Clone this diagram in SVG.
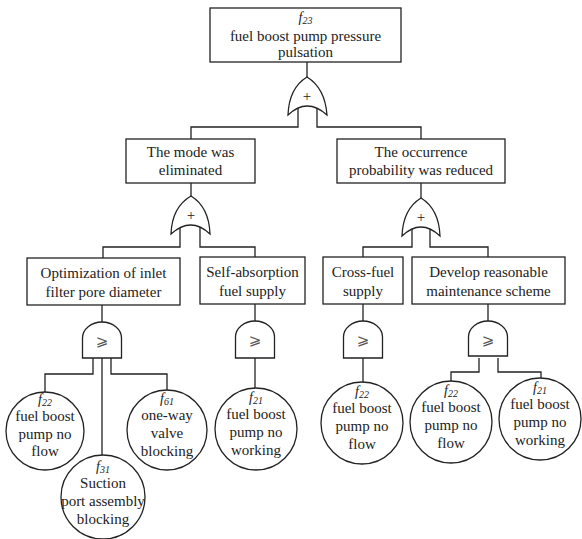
<svg xmlns="http://www.w3.org/2000/svg" width="582" height="539" viewBox="0 0 582 539">
<style>
.box{fill:#fff;stroke:#222;stroke-width:1.3}
.gate{fill:#fff;stroke:#222;stroke-width:1.3}
.ev{fill:#fff;stroke:#222;stroke-width:1.3}
.ln{fill:none;stroke:#222;stroke-width:1.3}
.t{font-family:'Liberation Serif','DejaVu Serif',serif;font-size:15px;fill:#222;text-anchor:middle}
.lbl{font-style:italic;font-size:14px}
.sub{font-size:10px}
.sym{font-family:'DejaVu Sans',sans-serif;font-size:15px;fill:#555;text-anchor:middle}
</style>
<rect width="582" height="539" fill="#fff"/>
<g id="connectors">
<path class="ln" d="M307,62 V78"/>
<path class="ln" d="M298,105 V127 H191 V139"/>
<path class="ln" d="M317,105 V127 H421 V139"/>
<path class="ln" d="M191,183 V196"/>
<path class="ln" d="M180,225 V247 H103 V258"/>
<path class="ln" d="M200,225 V247 H255 V257"/>
<path class="ln" d="M421,183 V198"/>
<path class="ln" d="M412,228 V247 H363 V257"/>
<path class="ln" d="M430,228 V247 H488 V257"/>
<path class="ln" d="M102,305 V322"/>
<path class="ln" d="M93,358 V374 H45 V392"/>
<path class="ln" d="M102,358 V455"/>
<path class="ln" d="M111,358 V374 H167 V390"/>
<path class="ln" d="M255,304 V321"/>
<path class="ln" d="M255,358 V388"/>
<path class="ln" d="M363,304 V321"/>
<path class="ln" d="M363,358 V382"/>
<path class="ln" d="M488,304 V321"/>
<path class="ln" d="M479,358 V372 H451 V381"/>
<path class="ln" d="M498,358 V372 H541 V378"/>
</g>
<g id="top">
<rect class="box" x="210" y="8" width="191" height="54"/>
<text class="t" x="305.5" y="22"><tspan class="lbl">f</tspan><tspan class="lbl sub" dy="2">23</tspan></text>
<text class="t" x="305.5" y="41">fuel boost pump pressure</text>
<text class="t" x="305.5" y="57">pulsation</text>
</g>
<g id="or-top">
<path class="gate" d="M288,115 Q289,88 307,77 Q325,88 327,115 Q307,97 288,115 Z"/>
<text class="t" x="307" y="101">+</text>
</g>
<g id="mode">
<rect class="box" x="126" y="139" width="129" height="44"/>
<text class="t" x="190.5" y="157">The mode was</text>
<text class="t" x="190.5" y="175">eliminated</text>
</g>
<g id="occurrence">
<rect class="box" x="337" y="139" width="168" height="44"/>
<text class="t" x="421" y="157">The occurrence</text>
<text class="t" x="421" y="175">probability was reduced</text>
</g>
<g id="or-left">
<path class="gate" d="M171,234 Q172,207 191,196 Q209,207 210,234 Q191,216 171,234 Z"/>
<text class="t" x="191" y="220">+</text>
</g>
<g id="or-right">
<path class="gate" d="M402,236 Q403,209 421,198 Q439,209 440,236 Q421,218 402,236 Z"/>
<text class="t" x="421" y="222">+</text>
</g>
<g id="optimization">
<rect class="box" x="27" y="258" width="153" height="47"/>
<text class="t" x="103.5" y="278">Optimization of inlet</text>
<text class="t" x="103.5" y="297">filter pore diameter</text>
</g>
<g id="self-absorption">
<rect class="box" x="200" y="257" width="105" height="47"/>
<text class="t" x="252.5" y="277">Self-absorption</text>
<text class="t" x="252.5" y="296">fuel supply</text>
</g>
<g id="cross-fuel">
<rect class="box" x="323" y="257" width="80" height="47"/>
<text class="t" x="363" y="277">Cross-fuel</text>
<text class="t" x="363" y="296">supply</text>
</g>
<g id="develop">
<rect class="box" x="412" y="257" width="153" height="47"/>
<text class="t" x="488.5" y="277">Develop reasonable</text>
<text class="t" x="488.5" y="296">maintenance scheme</text>
</g>
<g id="and-a">
<path class="gate" d="M82.5,358 V338 A19.5,16 0 0 1 121.5,338 V358 Z"/>
<text class="sym" x="102" y="346">⩾</text>
</g>
<g id="and-b">
<path class="gate" d="M235.5,358 V337 A19.5,16 0 0 1 274.5,337 V358 Z"/>
<text class="sym" x="255" y="345">⩾</text>
</g>
<g id="and-c">
<path class="gate" d="M343.5,358 V337 A19.5,16 0 0 1 382.5,337 V358 Z"/>
<text class="sym" x="363" y="345">⩾</text>
</g>
<g id="and-d">
<path class="gate" d="M468.5,356 V337 A19.5,16 0 0 1 507.5,337 V356 Z"/>
<text class="sym" x="488" y="345">⩾</text>
</g>
<g id="ev-f22-a">
<circle class="ev" cx="45" cy="431" r="39"/>
<text class="t" x="45" y="404"><tspan class="lbl">f</tspan><tspan class="lbl sub" dy="2">22</tspan></text>
<text class="t" x="45" y="421">fuel boost</text>
<text class="t" x="45" y="439">pump no</text>
<text class="t" x="45" y="456">flow</text>
</g>
<g id="ev-f31">
<circle class="ev" cx="103" cy="497" r="42"/>
<text class="t" x="103" y="471"><tspan class="lbl">f</tspan><tspan class="lbl sub" dy="2">31</tspan></text>
<text class="t" x="103" y="488">Suction</text>
<text class="t" x="103" y="506">port assembly</text>
<text class="t" x="103" y="524">blocking</text>
</g>
<g id="ev-f61">
<circle class="ev" cx="167" cy="430" r="40"/>
<text class="t" x="167" y="403"><tspan class="lbl">f</tspan><tspan class="lbl sub" dy="2">61</tspan></text>
<text class="t" x="167" y="420">one-way</text>
<text class="t" x="167" y="438">valve</text>
<text class="t" x="167" y="456">blocking</text>
</g>
<g id="ev-f21-b">
<circle class="ev" cx="256" cy="429" r="41"/>
<text class="t" x="256" y="402"><tspan class="lbl">f</tspan><tspan class="lbl sub" dy="2">21</tspan></text>
<text class="t" x="256" y="419">fuel boost</text>
<text class="t" x="256" y="437">pump no</text>
<text class="t" x="256" y="455">working</text>
</g>
<g id="ev-f22-c">
<circle class="ev" cx="362" cy="423" r="41"/>
<text class="t" x="362" y="396"><tspan class="lbl">f</tspan><tspan class="lbl sub" dy="2">22</tspan></text>
<text class="t" x="362" y="413">fuel boost</text>
<text class="t" x="362" y="431">pump no</text>
<text class="t" x="362" y="449">flow</text>
</g>
<g id="ev-f22-d">
<circle class="ev" cx="451" cy="422" r="41"/>
<text class="t" x="451" y="395"><tspan class="lbl">f</tspan><tspan class="lbl sub" dy="2">22</tspan></text>
<text class="t" x="451" y="412">fuel boost</text>
<text class="t" x="451" y="430">pump no</text>
<text class="t" x="451" y="448">flow</text>
</g>
<g id="ev-f21-d">
<circle class="ev" cx="540" cy="419" r="41"/>
<text class="t" x="540" y="392"><tspan class="lbl">f</tspan><tspan class="lbl sub" dy="2">21</tspan></text>
<text class="t" x="540" y="409">fuel boost</text>
<text class="t" x="540" y="427">pump no</text>
<text class="t" x="540" y="445">working</text>
</g>
</svg>
